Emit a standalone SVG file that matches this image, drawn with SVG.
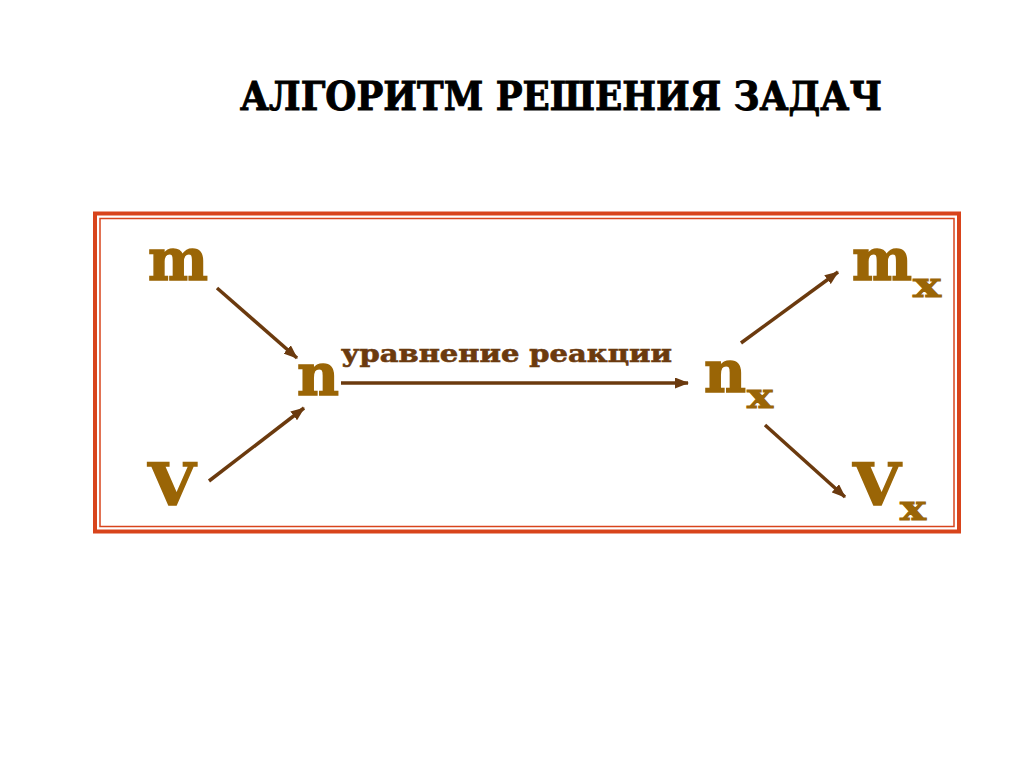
<svg xmlns="http://www.w3.org/2000/svg" width="1024" height="768" viewBox="0 0 1024 768">
<defs>
<marker id="ah" markerWidth="14" markerHeight="11" refX="13" refY="5.5" orient="auto" markerUnits="userSpaceOnUse">
<path d="M0,0 L14,5.5 L0,11 Z" fill="#6b3a0e"/>
</marker>
<style>
.sym{font-family:"DejaVu Serif","Liberation Serif",serif;font-weight:bold;fill:#9a6506;stroke:#9a6506;stroke-width:1.5;font-size:58px}
.sub{font-family:"DejaVu Serif","Liberation Serif",serif;font-weight:bold;fill:#9a6506;stroke:#9a6506;stroke-width:1;font-size:34px}
.arr{stroke:#6b3a0e;stroke-width:3.5;fill:none;marker-end:url(#ah)}
.title{font-family:"DejaVu Serif","Liberation Serif",serif;font-weight:bold;fill:#000;stroke:#000;stroke-width:1;font-size:40px}
.lbl{font-family:"DejaVu Serif","Liberation Serif",serif;font-weight:bold;fill:#6b3a0e;stroke:#6b3a0e;stroke-width:0.6;font-size:24px}
</style>
</defs>
<rect width="1024" height="768" fill="#fff"/>
<text class="title" x="240" y="110" textLength="642" lengthAdjust="spacingAndGlyphs">АЛГОРИТМ РЕШЕНИЯ ЗАДАЧ</text>
<g id="frame">
<rect x="95" y="213.5" width="864" height="318" fill="none" stroke="#d8441c" stroke-width="4"/>
<rect x="100" y="218.5" width="854" height="308" fill="none" stroke="#d8441c" stroke-width="1.5"/>
</g>
<g id="connectors">
<line class="arr" x1="217" y1="288" x2="297" y2="358"/>
<line class="arr" x1="209" y1="481" x2="304" y2="408"/>
<line class="arr" x1="341" y1="383" x2="688" y2="383"/>
<text class="lbl" x="341" y="362" textLength="331" lengthAdjust="spacingAndGlyphs">уравнение реакции</text>
<line class="arr" x1="741" y1="343" x2="838" y2="272"/>
<line class="arr" x1="765" y1="425" x2="845" y2="497"/>
</g>
<g id="node-m"><text class="sym" x="148" y="280" textLength="60" lengthAdjust="spacingAndGlyphs">m</text></g>
<g id="node-V"><text class="sym" x="148" y="505" textLength="48" lengthAdjust="spacingAndGlyphs">V</text></g>
<g id="node-n"><text class="sym" x="297" y="395" textLength="42" lengthAdjust="spacingAndGlyphs">n</text></g>
<g id="node-nx"><text class="sym" x="704" y="392" textLength="42" lengthAdjust="spacingAndGlyphs">n</text><text class="sub" x="747" y="408" textLength="26" lengthAdjust="spacingAndGlyphs">x</text></g>
<g id="node-mx"><text class="sym" x="852" y="280" textLength="60" lengthAdjust="spacingAndGlyphs">m</text><text class="sub" x="913" y="297" textLength="28" lengthAdjust="spacingAndGlyphs">x</text></g>
<g id="node-Vx"><text class="sym" x="853" y="505" textLength="48" lengthAdjust="spacingAndGlyphs">V</text><text class="sub" x="900" y="520" textLength="26" lengthAdjust="spacingAndGlyphs">x</text></g>
</svg>
